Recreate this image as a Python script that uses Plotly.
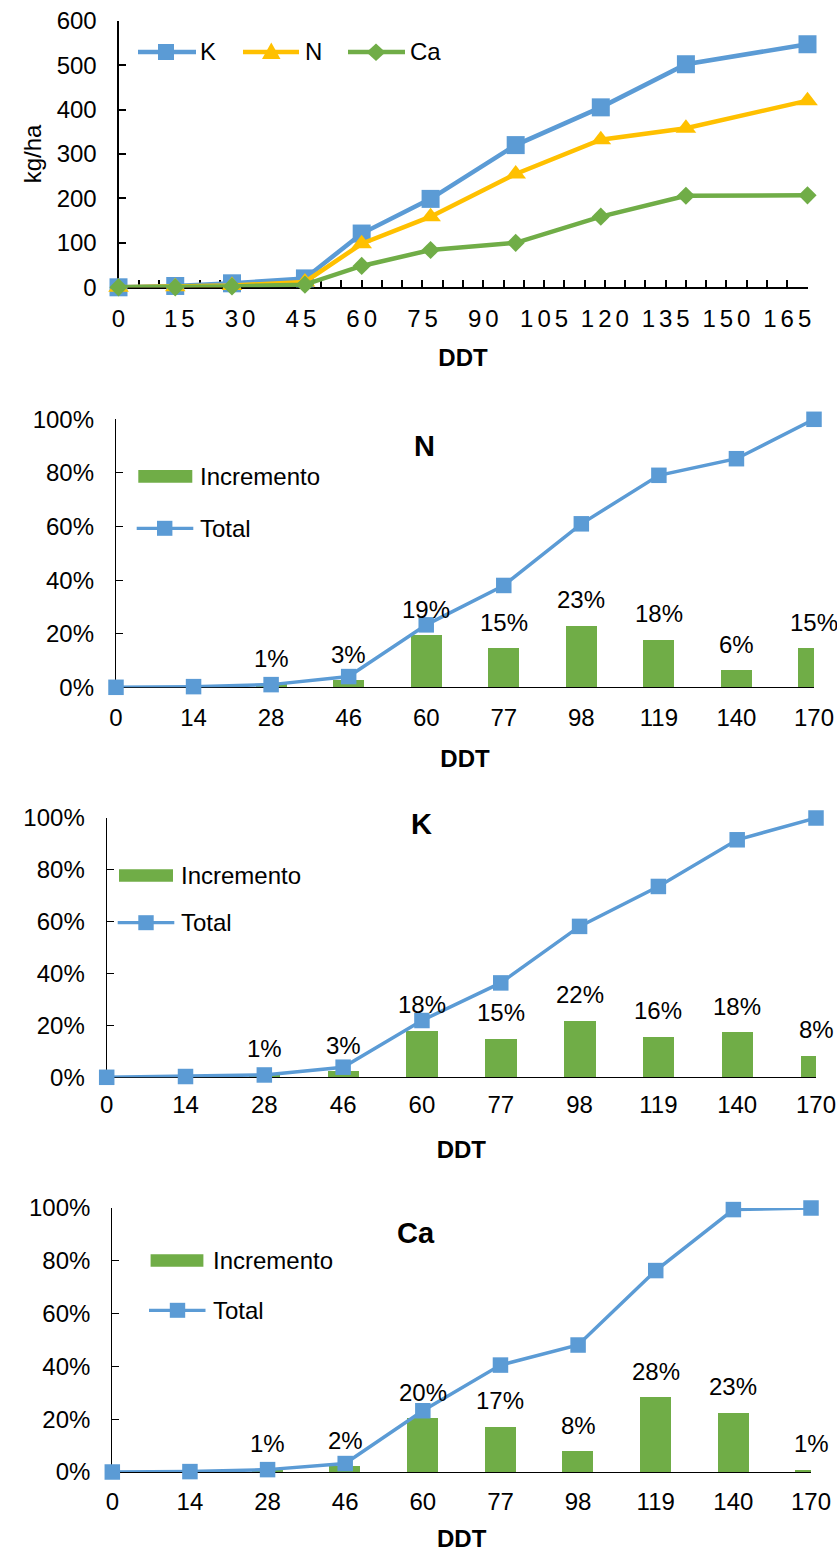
import plotly.graph_objects as go

W, H = 837, 1552
FONT = "Arial, 'Liberation Sans', Helvetica, sans-serif"
BLUE = "#5B9BD5"
GOLD = "#FFC000"
GREEN = "#70AD47"

# ---------------- data: top chart (kg/ha vs DDT) ----------------
days = [0, 14, 28, 46, 60, 77, 98, 119, 140, 170]
k_kgha = [0, 3, 9, 20, 121, 199, 320, 405, 502, 547]
n_kgha = [0, 1, 4, 12, 98, 159, 255, 332, 358, 420]
ca_kgha = [0, 0, 2, 6, 48, 84, 100, 159, 206, 207]
top_tick_vals = [0, 15, 30, 45, 60, 75, 90, 105, 120, 135, 150, 165]

# ---------------- data: percentage charts ----------------
ddt_labels = ["0", "14", "28", "46", "60", "77", "98", "119", "140", "170"]

n_increment = [None, None, 1.0, 2.5, 19.3, 14.6, 22.9, 17.7, 6.2, 14.6]
n_increment_label = [None, None, 1, 3, 19, 15, 23, 18, 6, 15]
n_total = [0, 0.25, 1.0, 4.0, 23.3, 38.0, 61.0, 79.1, 85.3, 100]

k_increment = [None, None, 0.9, 2.3, 18.0, 14.8, 21.9, 15.7, 17.4, 8.4]
k_increment_label = [None, None, 1, 3, 18, 15, 22, 16, 18, 8]
k_total = [0, 0.3, 0.9, 3.9, 21.9, 36.4, 58.2, 73.6, 91.6, 100]

ca_increment = [None, None, 0.8, 2.2, 20.3, 17.1, 7.8, 28.4, 22.5, 0.8]
ca_increment_label = [None, None, 1, 2, 20, 17, 8, 28, 23, 1]
ca_total = [0, 0.15, 0.9, 3.2, 23.2, 40.5, 48.1, 76.3, 99.4, 100]


def px(xp):
    return xp / W


def py(yp):
    return 1 - yp / H


def spaced(t):
    return "\u2006".join(list(t))


fig = go.Figure()

# ---------------- top chart ----------------
for name, vals, color, sym, size in [
    ("K", k_kgha, BLUE, "square", 18),
    ("N", n_kgha, GOLD, "triangle-up", 18),
    ("Ca", ca_kgha, GREEN, "diamond", 14),
]:
    fig.add_trace(go.Scatter(
        x=days, y=vals, name=name, mode="lines+markers",
        line=dict(color=color, width=4.5),
        marker=dict(symbol=sym, size=size, color=color),
        xaxis="x", yaxis="y", cliponaxis=False, showlegend=False))

shapes = []
annotations = []
tfont = dict(family=FONT, size=24, color="black")


def hline(x0, x1, y, color, width):
    shapes.append(dict(type="line", xref="paper", yref="paper",
                       x0=px(x0), x1=px(x1), y0=py(y), y1=py(y),
                       line=dict(color=color, width=width)))


def rect(x0, y0, x1, y1, color):
    shapes.append(dict(type="rect", xref="paper", yref="paper",
                       x0=px(x0), x1=px(x1), y0=py(y0), y1=py(y1),
                       fillcolor=color, line=dict(width=0)))


def poly(points, color):
    path = "M " + " L ".join(f"{px(a):.5f},{py(b):.5f}" for a, b in points) + " Z"
    shapes.append(dict(type="path", xref="paper", yref="paper", path=path,
                       fillcolor=color, line=dict(width=0)))


def label(text, x, y, xanchor="left", size=24, bold=False):
    annotations.append(dict(text=f"<b>{text}</b>" if bold else text,
                            xref="paper", yref="paper", x=px(x), y=py(y),
                            xanchor=xanchor, yanchor="middle", showarrow=False,
                            font=dict(family=FONT, size=size, color="black")))


# top legend (drawn like the Excel legend)
hline(138, 196, 52, BLUE, 4.5)
rect(158, 44, 174, 60, BLUE)
label("K", 198, 52)
hline(243, 299, 52, GOLD, 4.5)
poly([(271.3, 42.5), (280.5, 59), (262, 59)], GOLD)
label("N", 303, 52)
hline(348, 405, 52, GREEN, 4.5)
poly([(376, 43.5), (385.5, 52.3), (376, 61), (366.5, 52.3)], GREEN)
label("Ca", 408, 52)

layout_axes = {}
layout_axes["xaxis"] = dict(
    domain=[px(118.5), px(807.5)], range=[0, 170], anchor="y",
    tickmode="array", tickvals=top_tick_vals,
    ticktext=[spaced(str(v)) for v in top_tick_vals],
    ticks="inside", ticklen=7, tickwidth=1.5, tickcolor="black",
    minor=dict(tickmode="linear", tick0=0, dtick=5, ticks="inside",
               ticklen=7, tickwidth=1.5, tickcolor="black", showgrid=False),
    showline=True, linecolor="black", linewidth=2, automargin=False,
    showgrid=False, zeroline=False, tickfont=tfont, ticklabelstandoff=9,
    title=dict(text="<b>DDT</b>", font=tfont, standoff=18),
    layer="below traces")
layout_axes["yaxis"] = dict(
    domain=[py(287.3), py(20.7)], range=[0, 600], anchor="x",
    tickmode="linear", tick0=0, dtick=100,
    ticks="inside", ticklen=7, tickwidth=1.5, tickcolor="black",
    showline=True, linecolor="black", linewidth=2, automargin=False,
    showgrid=False, zeroline=False, tickfont=tfont, ticklabelstandoff=15,
    title=dict(text="kg/ha", font=tfont, standoff=8),
    layer="below traces")

# ---------------- percentage charts ----------------
panels = [
    # name, increments, labels, totals, x-domain px, y-domain px, title pos, legend, x-label standoff, title standoff
    ("N", n_increment, n_increment_label, n_total, (116, 814), (687.3, 419.3),
     (424, 446), dict(rx=(138.3, 192.3), ry=(470, 482.7), tx=198, ty1=476.3,
                      lx=(136.7, 193.3), ly=528.3, mx=164.7), 9, 19),
    ("K", k_increment, k_increment_label, k_total, (106.7, 816), (1077.3, 818),
     (422, 823.5), dict(rx=(119, 173), ry=(869.3, 881.7), tx=178.5, ty1=875.5,
                        lx=(117.7, 174.3), ly=922.7, mx=146), 6, 23),
    ("Ca", ca_increment, ca_increment_label, ca_total, (112.3, 811), (1472, 1208),
     (416, 1233), dict(rx=(150.6, 203.4), ry=(1254.3, 1266.7), tx=210.5, ty1=1260.5,
                       lx=(149, 205.5), ly=1310.3, mx=177.5), 8, 19),
]

for i, (name, inc, lbls, tot, xd, yd, tpos, lg, xso, tso) in enumerate(panels, start=2):
    xa, ya = f"x{i}", f"y{i}"
    fig.add_trace(go.Bar(
        x=ddt_labels, y=inc, name="Incremento", width=0.4,
        marker=dict(color=GREEN, line=dict(width=0)),
        xaxis=xa, yaxis=ya, showlegend=False))
    fig.add_trace(go.Scatter(
        x=ddt_labels, y=tot, name="Total", mode="lines+markers",
        line=dict(color=BLUE, width=3.5),
        marker=dict(symbol="square", size=15.5, color=BLUE),
        xaxis=xa, yaxis=ya, cliponaxis=False, showlegend=False))
    for idx, (v, t) in enumerate(zip(inc, lbls)):
        if v is None or t is None:
            continue
        annotations.append(dict(
            text=f"{t}%", x=idx, y=v, xref=xa, yref=ya, yshift=26,
            xanchor="center", yanchor="middle", showarrow=False,
            font=dict(family=FONT, size=24, color="black")))
    # title
    label(name, tpos[0], tpos[1], xanchor="center", size=29, bold=True)
    # legend
    rect(lg["rx"][0], lg["ry"][0], lg["rx"][1], lg["ry"][1], GREEN)
    label("Incremento", lg["tx"], lg["ty1"])
    hline(lg["lx"][0], lg["lx"][1], lg["ly"], BLUE, 3.3)
    rect(lg["mx"] - 7.7, lg["ly"] - 7.5, lg["mx"] + 7.7, lg["ly"] + 7.5, BLUE)
    label("Total", lg["tx"], lg["ly"])

    layout_axes[f"xaxis{i}"] = dict(
        domain=[px(xd[0]), px(xd[1])], type="category", range=[0, 9],
        anchor=ya, ticks="inside", ticklen=7, tickwidth=1.3, tickcolor="black",
        showline=True, linecolor="black", linewidth=1.3, automargin=False,
        showgrid=False, zeroline=False, tickfont=tfont, ticklabelstandoff=xso,
        title=dict(text="<b>DDT</b>", font=tfont, standoff=tso),
        layer="below traces")
    layout_axes[f"yaxis{i}"] = dict(
        domain=[py(yd[0]), py(yd[1])], range=[0, 100], anchor=xa,
        tickmode="linear", tick0=0, dtick=20, ticksuffix="%",
        ticks="inside", ticklen=7, tickwidth=1.3, tickcolor="black",
        showline=True, linecolor="black", linewidth=1.3, automargin=False,
        showgrid=False, zeroline=False, tickfont=tfont, ticklabelstandoff=16,
        layer="below traces")

fig.update_layout(
    template="none",
    width=W, height=H, autosize=False,
    margin=dict(l=0, r=0, t=0, b=0, pad=0, autoexpand=False),
    paper_bgcolor="white", plot_bgcolor="white",
    font=dict(family=FONT, size=24, color="black"),
    showlegend=False, bargap=0,
    shapes=shapes, annotations=annotations,
    **layout_axes)

fig.write_html("out.html", config=dict(displayModeBar=False),
               post_script="document.body.style.margin='0';")
